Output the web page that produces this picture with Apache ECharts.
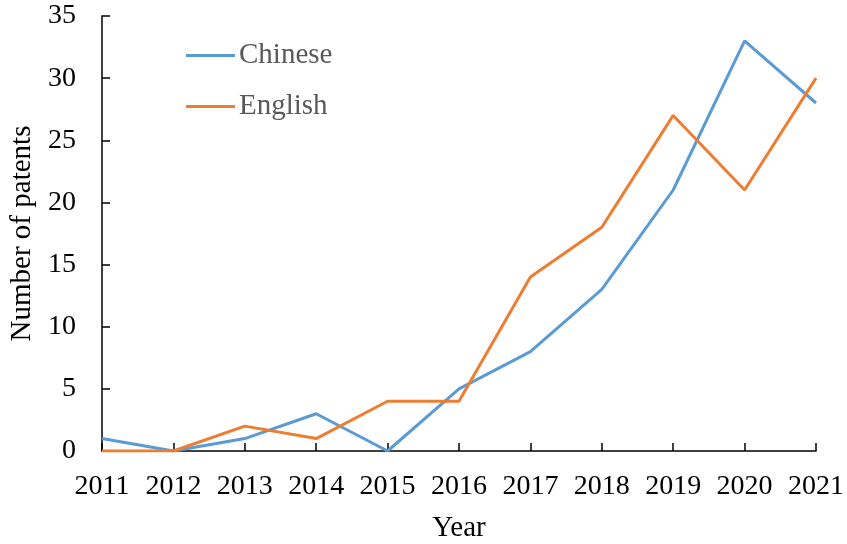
<!DOCTYPE html>
<html>
<head>
<meta charset="utf-8">
<script src="https://cdn.jsdelivr.net/npm/echarts@6/dist/echarts.min.js"></script>
<style>
html,body{margin:0;padding:0;background:#fff;}
#chart{width:847px;height:544px;}
</style>
</head>
<body>
<div id="chart"></div>
<script>
const years = ['2011','2012','2013','2014','2015','2016','2017','2018','2019','2020','2021'];
const chinese = [1, 0, 1, 3, 0, 5, 8, 13, 21, 33, 28];
const english = [0, 0, 2, 1, 4, 4, 14, 18, 27, 21, 30];

const font = '"Liberation Serif", "Times New Roman", serif';
const chart = echarts.init(document.getElementById('chart'));
chart.setOption({
  backgroundColor: '#fff',
  animation: false,
  grid: { left: 102, right: 31, top: 16, bottom: 93, containLabel: false, outerBoundsMode: 'none' },
  legend: {
    orient: 'vertical',
    left: 181, top: 36,
    itemWidth: 49, itemHeight: 3, itemGap: 22,
    icon: 'rect',
    textStyle: { fontFamily: font, fontSize: 29, color: '#595959', padding: [0,0,0,-1] },
    data: ['Chinese', 'English']
  },
  xAxis: {
    type: 'category',
    data: years,
    boundaryGap: false,
    name: 'Year',
    nameLocation: 'middle',
    nameGap: 63,
    nameTextStyle: { fontFamily: font, fontSize: 29, color: '#000' },
    axisLine: { lineStyle: { color: '#000', width: 1.5 } },
    axisTick: { inside: true, length: 8, interval: 0, lineStyle: { color: '#000', width: 1.5 } },
    axisLabel: { fontFamily: font, fontSize: 28, color: '#000', margin: 22, interval: 0, hideOverlap: false },
    splitLine: { show: false }
  },
  yAxis: {
    type: 'value',
    min: 0, max: 35, interval: 5,
    name: 'Number of patents',
    nameLocation: 'middle',
    nameGap: 60,
    nameTextStyle: { fontFamily: font, fontSize: 29, color: '#000' },
    axisLine: { show: true, lineStyle: { color: '#000', width: 1.5 } },
    axisTick: { show: true, inside: true, length: 8, lineStyle: { color: '#000', width: 1.5 } },
    axisLabel: { fontFamily: font, fontSize: 28, color: '#000', margin: 26 },
    splitLine: { show: false }
  },
  series: [
    { name: 'Chinese', type: 'line', data: chinese, symbol: 'none',
      lineStyle: { color: '#5B9BD5', width: 3 }, itemStyle: { color: '#5B9BD5' } },
    { name: 'English', type: 'line', data: english, symbol: 'none',
      lineStyle: { color: '#ED7D31', width: 3 }, itemStyle: { color: '#ED7D31' } }
  ]
});
</script>
</body>
</html>
